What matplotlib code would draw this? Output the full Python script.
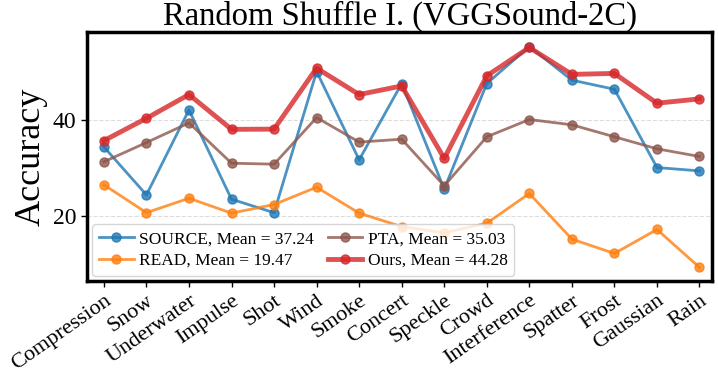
import matplotlib
matplotlib.use("Agg")
import matplotlib.pyplot as plt

categories = ["Compression", "Snow", "Underwater", "Impulse", "Shot", "Wind", "Smoke",
              "Concert", "Speckle", "Crowd", "Interference", "Spatter", "Frost",
              "Gaussian", "Rain"]

source = [34.4, 24.4, 42.1, 23.5, 20.7, 50.1, 31.7, 47.6, 25.6, 47.6, 55.3, 48.3, 46.4, 30.1, 29.4]
read = [26.5, 20.7, 23.7, 20.6, 22.4, 26.0, 20.6, 17.8, 16.5, 18.5, 24.7, 15.2, 12.2, 17.2, 9.3]
pta = [31.3, 35.3, 39.4, 31.0, 30.8, 40.5, 35.4, 36.0, 26.3, 36.5, 40.1, 39.0, 36.5, 34.0, 32.4]
ours = [35.7, 40.35, 45.3, 38.05, 38.1, 50.8, 45.3, 47.1, 32.0, 49.2, 55.1, 49.5, 49.7, 43.5, 44.4]

names = ["SOURCE", "READ", "PTA", "Ours"]
means = [37.24, 19.47, 35.03, 44.28]

plt.rcParams["font.family"] = ["Liberation Serif", "DejaVu Serif"]

fig = plt.figure(figsize=(7.18, 3.78), dpi=100)
ax = fig.add_axes([0.121, 0.257, 0.871, 0.658])

x = range(len(categories))
series = [source, read, pta, ours]
colors = ["tab:blue", "tab:orange", "tab:brown", "tab:red"]
widths = [2, 2, 2, 3.5]
for vals, name, m, c, lw in zip(series, names, means, colors, widths):
    ax.plot(x, vals, marker="o", color=c, lw=lw, ms=6.5, alpha=0.8,
            label=f"{name}, Mean = {m:.2f}")

ax.set_xlim(-0.4, 14.3)
ax.set_ylim(6.5, 58.3)
ax.set_yticks([20, 40])
ax.tick_params(axis="y", labelsize=17, length=4, width=1)
ax.set_xticks(list(x))
ax.set_xticklabels(categories, rotation=35, ha="right", rotation_mode="anchor", fontsize=16)
ax.tick_params(axis="x", length=4, width=1)
ax.grid(axis="y", ls="--", color="#dddddd", lw=0.8)
for s in ax.spines.values():
    s.set_linewidth(2.5)
    s.set_color("black")

ax.set_ylabel("Accuracy", fontsize=26, labelpad=4)
ax.set_title("Random Shuffle I. (VGGSound-2C)", fontsize=23.5, pad=3)
ax.legend(loc="lower left", ncol=2, fontsize=12.5, handlelength=2, columnspacing=0.8,
          borderaxespad=0.3, labelspacing=0.3, handletextpad=0.3, framealpha=0.8)

fig.savefig("out.png", dpi=100)
